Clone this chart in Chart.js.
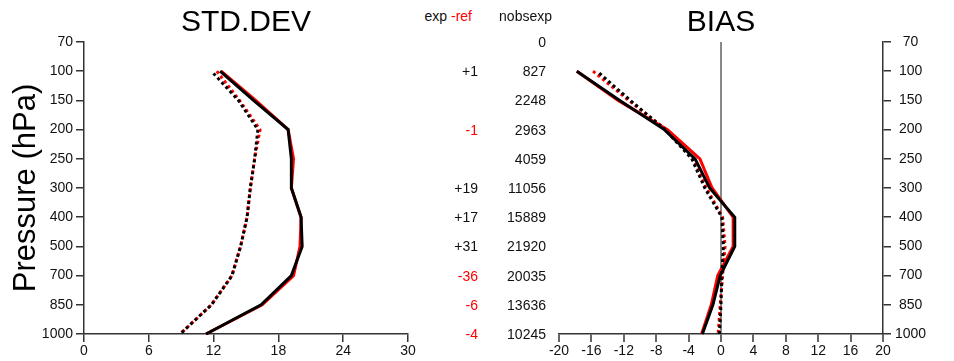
<!DOCTYPE html>
<html>
<head>
<meta charset="utf-8">
<script src="https://cdn.jsdelivr.net/npm/chart.js@4.4.1/dist/chart.umd.min.js"></script>
<style>
  body { margin: 0; background: #fff; }
  #wrap { position: relative; width: 954px; height: 361px; font-family: Arial, "Liberation Sans", sans-serif; }
  #cStd { position: absolute; left: 0; top: 0; }
  #cBias { position: absolute; left: 540px; top: 0; }
  .txt { position: absolute; font-size: 14px; line-height: 16px; white-space: nowrap; text-align: right; color: #111; }
  .red { color: #ff0000; }
</style>
</head>
<body>
<div id="wrap">
  <canvas id="cStd" width="420" height="361"></canvas>
  <canvas id="cBias" width="414" height="361"></canvas>
</div>
<script>
// niveaux de pression (axe y), de haut en bas
const levels = ['70', '100', '150', '200', '250', '300', '400', '500', '700', '850', '1000'];
// valeurs de 100 à 1000 hPa (rien à 70)
const stdExp    = [12.6, 15.7, 18.9, 19.2, 19.2, 20.1, 20.2, 19.2, 16.4, 11.3];
const stdRef    = [12.7, 15.9, 18.9, 19.4, 19.2, 20.1, 20.0, 19.4, 16.5, 11.3];
const stdExpDot = [11.8, 14.3, 16.1, 15.8, 15.4, 15.1, 14.5, 13.7, 11.8, 8.9];
const stdRefDot = [12.3, 14.4, 16.3, 15.8, 15.4, 15.1, 14.5, 13.7, 11.8, 8.9];

const biasExp    = [-17.8, -12.5, -7.0, -3.2, -1.4, 1.7, 1.7, -0.1, -1.0, -2.3];
const biasRef    = [-17.8, -12.7, -6.6, -2.6, -1.1, 1.5, 1.5, -0.4, -1.2, -2.4];
const biasExpDot = [-15.3, -11.2, -6.9, -3.6, -2.0, 0.1, 0.3, 0.1, 0.0, -0.2];
const biasRefDot = [-15.8, -11.4, -6.8, -3.4, -1.8, 0.2, 0.5, 0.2, -0.1, -0.35];

// colonne du milieu
const expMinusRef = ['', '+1', '', '-1', '', '+19', '+17', '+31', '-36', '-6', '-4'];
const nobsExp = [0, 827, 2248, 2963, 4059, 11056, 15889, 21920, 20035, 13636, 10245];

const stdTicks = [0, 6, 12, 18, 24, 30];
const biasTicks = [-20, -16, -12, -8, -4, 0, 4, 8, 12, 16, 20];

Chart.defaults.font.family = 'Arial, "Liberation Sans", sans-serif';
Chart.defaults.font.size = 14;
Chart.defaults.color = '#111';

const axisColor = '#333';

function pts(arr) {
  return arr.map((v, i) => ({ x: v, y: levels[i + 1] }));
}

function series(exp, ref, expDot, refDot) {
  return [
    { data: pts(exp), borderColor: '#000', borderWidth: 3 },
    { data: pts(expDot), borderColor: '#000', borderWidth: 3, borderDash: [3, 3], borderDashOffset: 3 },
    { data: pts(ref), borderColor: '#ff0000', borderWidth: 3 },
    { data: pts(refDot), borderColor: '#ff0000', borderWidth: 3, borderDash: [3, 3] }
  ].map(d => Object.assign(d, { pointRadius: 0, tension: 0, fill: false, borderJoinStyle: 'miter' }));
}

function titleOpts(text) {
  return {
    display: true, text: text, fullSize: false, color: '#000',
    font: { size: 30, weight: 'normal' }, padding: { top: 5, bottom: 1 }
  };
}

const chartStd = new Chart(document.getElementById('cStd'), {
  type: 'line',
  data: { labels: levels, datasets: series(stdExp, stdRef, stdExpDot, stdRefDot) },
  options: {
    responsive: false,
    animation: false,
    layout: { padding: { left: 0, right: 12, top: 0, bottom: 0 } },
    plugins: { legend: { display: false }, tooltip: { enabled: false }, title: titleOpts('STD.DEV') },
    scales: {
      x: {
        type: 'linear', min: 0, max: 30,
        afterBuildTicks: s => { s.ticks = stdTicks.map(v => ({ value: v })); },
        ticks: { padding: 1, maxRotation: 0, color: '#111' },
        grid: { drawOnChartArea: false, tickLength: 8, color: axisColor, lineWidth: 1.5 },
        border: { color: axisColor, width: 1.5 },
        afterFit: s => { s.height = 27; }
      },
      y: {
        type: 'category', labels: levels, position: 'left',
        ticks: { padding: 3, color: '#111' },
        grid: { drawOnChartArea: false, tickLength: 8, color: axisColor, lineWidth: 1.5 },
        border: { color: axisColor, width: 1.5 },
        title: { display: true, text: 'Pressure (hPa)', color: '#000', font: { size: 31 }, padding: { top: 8, bottom: 0 } },
        afterFit: s => { s.width = 84; }
      }
    }
  }
});

const chartBias = new Chart(document.getElementById('cBias'), {
  type: 'line',
  data: { labels: levels, datasets: series(biasExp, biasRef, biasExpDot, biasRefDot) },
  options: {
    responsive: false,
    animation: false,
    layout: { padding: { left: 19, right: 0, top: 0, bottom: 0 } },
    plugins: { legend: { display: false }, tooltip: { enabled: false }, title: titleOpts('BIAS') },
    scales: {
      x: {
        type: 'linear', min: -20, max: 20,
        afterBuildTicks: s => { s.ticks = biasTicks.map(v => ({ value: v })); },
        ticks: { padding: 1, maxRotation: 0, color: '#111' },
        grid: {
          drawOnChartArea: true, tickLength: 8,
          color: c => (c.tick && c.tick.value === 0) ? '#888' : 'rgba(0,0,0,0)',
          lineWidth: 2, tickColor: axisColor, tickWidth: 1.5
        },
        border: { color: axisColor, width: 1.5 },
        afterFit: s => { s.height = 27; }
      },
      y: {
        type: 'category', labels: levels, position: 'right',
        ticks: { padding: 4, crossAlign: 'center', color: '#111' },
        grid: { drawOnChartArea: false, tickLength: 8, color: axisColor, lineWidth: 1.5 },
        border: { color: axisColor, width: 1.5 },
        afterFit: s => { s.width = 71; }
      }
    }
  }
});

// texte de la colonne du milieu, aligné sur les niveaux
const wrap = document.getElementById('wrap');
function addText(html, right, cy, cls) {
  const d = document.createElement('div');
  d.className = 'txt' + (cls ? ' ' + cls : '');
  d.innerHTML = html;
  d.style.right = (954 - right) + 'px';
  d.style.top = (cy - 8) + 'px';
  wrap.appendChild(d);
}
addText('exp <span class="red">-ref</span>', 472, 16);
addText('nobsexp', 552, 16);
const yScale = chartStd.scales.y;
levels.forEach((lev, i) => {
  const cy = yScale.getPixelForValue(i);
  const d = expMinusRef[i];
  if (d) addText(d, 478, cy, d.charAt(0) === '-' ? 'red' : '');
  addText(String(nobsExp[i]), 546, cy);
});
</script>
</body>
</html>
